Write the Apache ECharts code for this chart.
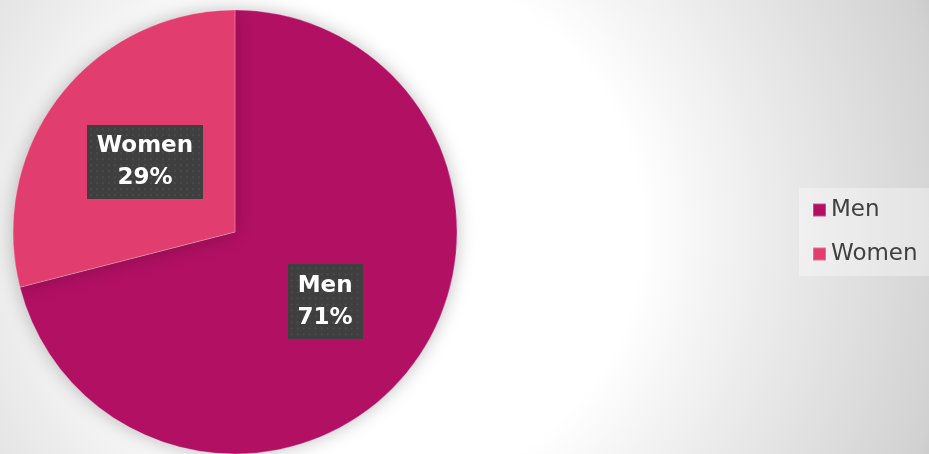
<!DOCTYPE html>
<html>
<head>
<meta charset="utf-8">
<script src="https://cdn.jsdelivr.net/npm/echarts@6/dist/echarts.min.js"></script>
<style>
  html, body { margin: 0; padding: 0; }
  #chart { width: 929px; height: 454px; }
</style>
</head>
<body>
<div id="chart"></div>
<script>
  var categories = ['Men', 'Women'];
  var values = [71, 29];
  var colors = ['#b21063', '#e23d6f'];

  // dotted dark fill used behind the data labels
  function dotPattern(w, h) {
    var c = document.createElement('canvas');
    c.width = w; c.height = h;
    var ctx = c.getContext('2d');
    ctx.fillStyle = '#3f3f3f';
    ctx.fillRect(0, 0, w, h);
    ctx.fillStyle = '#4b4b4b';
    for (var y = 3; y < h; y += 6) {
      for (var x = 3; x < w; x += 6) {
        ctx.fillRect(x, y, 2, 2);
      }
    }
    return c;
  }

  var labelSize = [[75, 75], [116, 74]];

  var myChart = echarts.init(document.getElementById('chart'));
  var option = {
    animation: false,
    backgroundColor: new echarts.graphic.RadialGradient(380, 230, 620, [
      {offset: 0, color: '#ffffff'},
      {offset: 0.42, color: '#ffffff'},
      {offset: 0.58, color: '#f0f0f0'},
      {offset: 0.93, color: '#d2d2d2'},
      {offset: 1, color: '#c4c4c4'}
    ], true),
    color: colors,
    legend: {
      orient: 'vertical',
      left: 799,
      top: 188,
      padding: [10, 12, 10, 13],
      itemWidth: 13,
      itemHeight: 13,
      itemGap: 20,
      icon: 'rect',
      backgroundColor: 'rgba(255,255,255,0.35)',
      textStyle: {
        color: '#404040',
        fontSize: 23,
        lineHeight: 24,
        fontFamily: 'DejaVu Sans'
      },
      data: categories
    },
    series: [{
      type: 'pie',
      center: [235, 232],
      radius: [0, 222],
      startAngle: 90,
      clockwise: true,
      avoidLabelOverlap: false,
      emphasis: {disabled: true},
      itemStyle: {
        borderColor: 'rgba(255,255,255,0.25)',
        borderWidth: 1,
        shadowBlur: 18,
        shadowColor: 'rgba(0,0,0,0.25)'
      },
      label: {
        show: true,
        position: 'inside',
        color: '#ffffff',
        fontFamily: 'DejaVu Sans',
        fontWeight: 'bold',
        fontSize: 23,
        lineHeight: 32,
        align: 'center',
        shadowBlur: 6,
        shadowOffsetX: 3,
        shadowOffsetY: 3,
        shadowColor: 'rgba(0,0,0,0.55)',
        formatter: function (p) {
          return p.name + '\n' + Math.round(p.percent) + '%';
        }
      },
      labelLine: {show: false},
      data: categories.map(function (name, i) {
        var w = labelSize[i][0], h = labelSize[i][1];
        return {
          name: name,
          value: values[i],
          label: {
            width: w,
            height: h - 10,
            padding: [5, 0, 5, 0],
            backgroundColor: {image: dotPattern(w, h)}
          }
        };
      })
    }]
  };
  myChart.setOption(option);
</script>
</body>
</html>
